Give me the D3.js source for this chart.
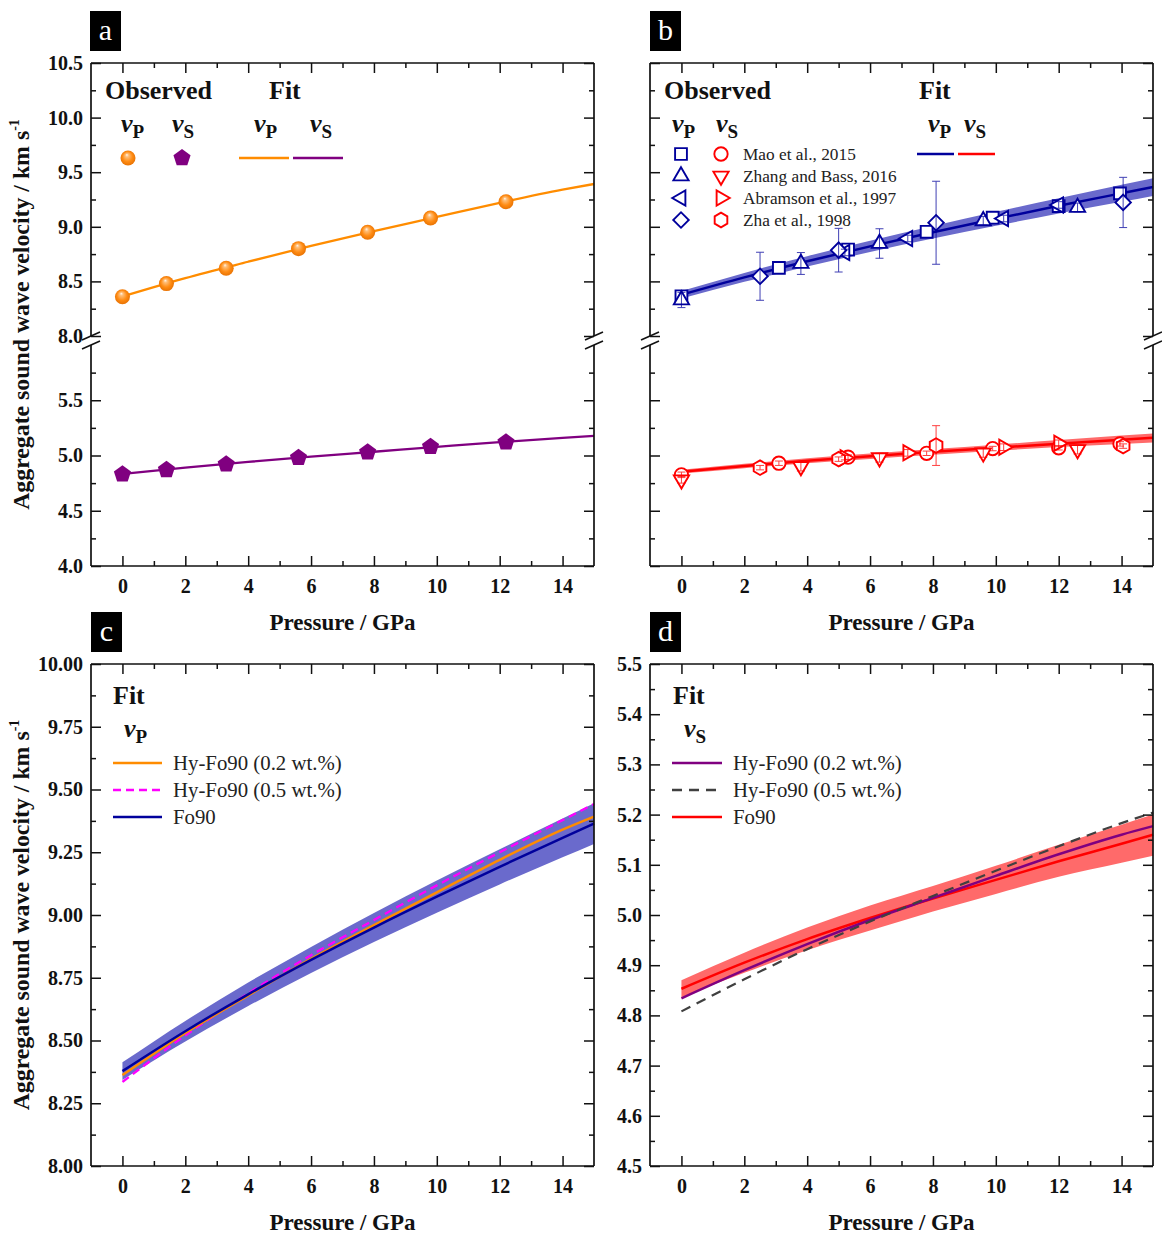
<!DOCTYPE html>
<html>
<head>
<meta charset="utf-8">
<script src="https://cdn.jsdelivr.net/npm/d3@7"></script>
<style>
  html, body { margin: 0; padding: 0; background: #fff; }
  svg { display: block; }
</style>
</head>
<body>
<svg id="chart" width="1162" height="1235"></svg>
<script>
// ---------------- axis ticks ----------------
const xMajor = [0, 2, 4, 6, 8, 10, 12, 14];
const xMinor = [1, 3, 5, 7, 9, 11, 13];
const yUpperMajor = [8.0, 8.5, 9.0, 9.5, 10.0, 10.5];
const yUpperMinor = [8.25, 8.75, 9.25, 9.75, 10.25];
const yLowerMajor = [4.0, 4.5, 5.0, 5.5];
const yLowerMinor = [4.25, 4.75, 5.25, 5.75];
const yVpMajor = [8.00, 8.25, 8.50, 8.75, 9.00, 9.25, 9.50, 9.75, 10.00];
const yVpMinor = [8.125, 8.375, 8.625, 8.875, 9.125, 9.375, 9.625, 9.875];
const yVsMajor = [4.5, 4.6, 4.7, 4.8, 4.9, 5.0, 5.1, 5.2, 5.3, 5.4, 5.5];
const yVsMinor = [4.55, 4.65, 4.75, 4.85, 4.95, 5.05, 5.15, 5.25, 5.35, 5.45];

// ---------------- observed Hy-Fo90 (0.2 wt.%) ----------------
const obsPressure = [0, 1.4, 3.3, 5.6, 7.8, 9.8, 12.2];
const obsVp = [8.36, 8.48, 8.62, 8.80, 8.95, 9.08, 9.23];
const obsVs = [4.83, 4.87, 4.92, 4.98, 5.03, 5.08, 5.12];

// ---------------- fitted velocity curves ----------------
const fitPressure = [0, 2, 4, 6, 8, 10, 12, 14, 15];
const hy02Vp   = [8.362, 8.530, 8.680, 8.825, 8.960, 9.090, 9.220, 9.340, 9.392];
const hy02Vs   = [4.834, 4.890, 4.942, 4.990, 5.034, 5.078, 5.121, 5.160, 5.177];
const hy05Vp   = [8.335, 8.520, 8.688, 8.840, 8.980, 9.118, 9.250, 9.378, 9.442];
const hy05Vs   = [4.808, 4.872, 4.932, 4.987, 5.038, 5.088, 5.137, 5.183, 5.204];
const fo90Vp   = [8.378, 8.537, 8.684, 8.821, 8.950, 9.073, 9.192, 9.307, 9.364];
const fo90VpHi = [8.413, 8.578, 8.731, 8.873, 9.008, 9.137, 9.262, 9.384, 9.445];
const fo90VpLo = [8.343, 8.496, 8.637, 8.769, 8.892, 9.009, 9.122, 9.230, 9.283];
const fo90Vs   = [4.853, 4.905, 4.952, 4.994, 5.033, 5.070, 5.107, 5.142, 5.160];
const fo90VsHi = [4.870, 4.925, 4.975, 5.019, 5.058, 5.098, 5.140, 5.180, 5.200];
const fo90VsLo = [4.836, 4.885, 4.930, 4.969, 5.007, 5.042, 5.076, 5.104, 5.118];

// ---------------- Fo90 literature data ----------------
const studyNames = ["Mao et al., 2015", "Zhang and Bass, 2016", "Abramson et al., 1997", "Zha et al., 1998"];

const maoP = [0, 3.1, 5.3, 7.8, 9.9, 12.0, 13.95];
const maoVp = [8.364, 8.624, 8.792, 8.954, 9.083, 9.190, 9.306];
const maoVpErr = [0, 0, 0, 0, 0, 0, 0];
const maoVs = [4.825, 4.930, 4.985, 5.020, 5.063, 5.070, 5.105];
const maoVsErr = [0.025, 0.02, 0.02, 0.02, 0.02, 0.02, 0.02];

const zhangP = [0, 3.8, 6.3, 9.6, 12.6];
const zhangVp = [8.330, 8.664, 8.847, 9.055, 9.177];
const zhangVpErr = [0.07, 0.10, 0.135, 0.04, 0.04];
const zhangVs = [4.780, 4.900, 4.980, 5.024, 5.054];
const zhangVsErr = [0.03, 0.04, 0.04, 0.04, 0.04];

const abramsonP = [5.2, 7.2, 10.25, 12.0];
const abramsonVp = [8.765, 8.893, 9.076, 9.200];
const abramsonVpErr = [0.03, 0.03, 0.03, 0.03];
const abramsonVs = [4.980, 5.024, 5.075, 5.110];
const abramsonVsErr = [0.02, 0.03, 0.03, 0.03];

const zhaP = [2.5, 5.0, 8.1, 14.05];
const zhaVp = [8.547, 8.786, 9.037, 9.223];
const zhaVpErr = [0.22, 0.20, 0.38, 0.23];
const zhaVs = [4.890, 4.967, 5.090, 5.085];
const zhaVsErr = [0.02, 0.02, 0.18, 0.02];

// ---------------- style ----------------
const FONT = '"Liberation Serif", "Times New Roman", Times, serif';
const INK = '#111';
const ORANGE = '#ff8c00', PURPLE = '#800080', MAGENTA = '#ff00ff';
const NAVY = '#00009c', RED = '#ff0000';
const NAVY_BAND = '#6a6acc', RED_BAND = '#ff6a6a';

const svg = d3.select('#chart');
svg.append('rect').attr('width', 1162).attr('height', 1235).attr('fill', '#fff');

const defs = svg.append('defs');
const grad = defs.append('radialGradient').attr('id', 'sphere')
  .attr('cx', '50%').attr('cy', '50%').attr('r', '55%').attr('fx', '42%').attr('fy', '28%');
grad.append('stop').attr('offset', '0%').attr('stop-color', '#fff8ee');
grad.append('stop').attr('offset', '20%').attr('stop-color', '#ffbe78');
grad.append('stop').attr('offset', '60%').attr('stop-color', '#ff8c14');
grad.append('stop').attr('offset', '100%').attr('stop-color', '#e46e00');

// ---------------- scales ----------------
const xA = d3.scaleLinear().domain([-1, 15]).range([91, 594]);
const xB = d3.scaleLinear().domain([-1, 15]).range([650, 1153]);
const yUpper = d3.scaleLinear().domain([8.0, 10.5]).range([336, 63]);
const yLower = d3.scaleLinear().domain([4.0, 6.0]).range([566, 345]);
const yVp = d3.scaleLinear().domain([8.0, 10.0]).range([1166, 664]);
const yVs = d3.scaleLinear().domain([4.5, 5.5]).range([1166, 664]);

const brokenSegs = [
  { y: yUpper, major: yUpperMajor, minor: yUpperMinor, fmt: '.1f' },
  { y: yLower, major: yLowerMajor, minor: yLowerMinor, fmt: '.1f' }
];

// ---------------- helpers ----------------
function styleAxis(sel) {
  sel.select('.domain').remove();
  sel.attr('font-family', FONT).attr('font-size', 20).attr('font-weight', 'bold');
  sel.selectAll('line').attr('stroke', INK).attr('stroke-width', 1.5);
  sel.selectAll('text').attr('fill', INK);
}

function drawAxes(x, segs, showYLabels) {
  const g = svg.append('g');
  const [L, R] = x.range();
  const T = d3.min(segs, s => s.y.range()[1]);
  const B = d3.max(segs, s => s.y.range()[0]);

  g.append('g').attr('transform', `translate(0,${B})`)
    .call(d3.axisBottom(x).tickValues(xMajor).tickSize(-10).tickPadding(13).tickFormat(d3.format('d'))).call(styleAxis);
  g.append('g').attr('transform', `translate(0,${B})`)
    .call(d3.axisBottom(x).tickValues(xMinor).tickSize(-5).tickFormat('')).call(styleAxis);
  g.append('g').attr('transform', `translate(0,${T})`)
    .call(d3.axisTop(x).tickValues(xMajor).tickSize(-10).tickFormat('')).call(styleAxis);
  g.append('g').attr('transform', `translate(0,${T})`)
    .call(d3.axisTop(x).tickValues(xMinor).tickSize(-5).tickFormat('')).call(styleAxis);

  segs.forEach(s => {
    g.append('g').attr('transform', `translate(${L},0)`)
      .call(d3.axisLeft(s.y).tickValues(s.major).tickSize(-10).tickPadding(8)
        .tickFormat(showYLabels ? d3.format(s.fmt) : '')).call(styleAxis);
    g.append('g').attr('transform', `translate(${L},0)`)
      .call(d3.axisLeft(s.y).tickValues(s.minor).tickSize(-5).tickFormat('')).call(styleAxis);
    g.append('g').attr('transform', `translate(${R},0)`)
      .call(d3.axisRight(s.y).tickValues(s.major).tickSize(-10).tickFormat('')).call(styleAxis);
    g.append('g').attr('transform', `translate(${R},0)`)
      .call(d3.axisRight(s.y).tickValues(s.minor).tickSize(-5).tickFormat('')).call(styleAxis);
    // frame sides for this segment
    [L, R].forEach(px => {
      g.append('line').attr('x1', px).attr('x2', px)
        .attr('y1', s.y.range()[0]).attr('y2', s.y.range()[1])
        .attr('stroke', INK).attr('stroke-width', 1.7);
    });
  });
  [T, B].forEach(py => {
    g.append('line').attr('x1', L).attr('x2', R).attr('y1', py).attr('y2', py)
      .attr('stroke', INK).attr('stroke-width', 1.7);
  });

  // break marks between segments
  for (let i = 0; i < segs.length - 1; i++) {
    const yTop = segs[i].y.range()[0];
    const yBot = segs[i + 1].y.range()[1];
    [L, R].forEach(px => {
      [yTop, yBot].forEach(py => {
        g.append('line').attr('x1', px - 9).attr('y1', py + 4).attr('x2', px + 9).attr('y2', py - 4)
          .attr('stroke', INK).attr('stroke-width', 1.5);
      });
    });
  }
  return g;
}

function panelLetter(x, y, letter) {
  svg.append('rect').attr('x', x).attr('y', y).attr('width', 31).attr('height', 40).attr('fill', '#000');
  svg.append('text').attr('x', x + 15.5).attr('y', y + 29).attr('text-anchor', 'middle')
    .attr('font-family', FONT).attr('font-size', 30).attr('fill', '#fff').text(letter);
}

function xTitle(x, yBase) {
  const [L, R] = x.range();
  svg.append('text').attr('x', (L + R) / 2).attr('y', yBase).attr('text-anchor', 'middle')
    .attr('font-family', FONT).attr('font-size', 23).attr('font-weight', 'bold').attr('fill', INK)
    .text('Pressure / GPa');
}

function yTitle(cx, cy) {
  const t = svg.append('text').attr('transform', `translate(${cx},${cy}) rotate(-90)`)
    .attr('text-anchor', 'middle').attr('font-family', FONT).attr('font-size', 23.8)
    .attr('font-weight', 'bold').attr('fill', INK);
  t.append('tspan').text('Aggregate sound wave velocity / km s');
  t.append('tspan').attr('font-size', 14).attr('dy', -10).text('-1');
}

function boldText(x, y, str, size) {
  svg.append('text').attr('x', x).attr('y', y).attr('font-family', FONT)
    .attr('font-size', size || 26).attr('font-weight', 'bold').attr('fill', INK).text(str);
}

function vLabel(x, y, sub) {
  const t = svg.append('text').attr('x', x).attr('y', y).attr('font-family', FONT)
    .attr('font-weight', 'bold').attr('fill', INK);
  t.append('tspan').attr('font-style', 'italic').attr('font-size', 26).text('v');
  t.append('tspan').attr('font-size', 19).attr('dy', 6).text(sub);
}

function curvePath(x, y, values) {
  return d3.line().x((d, i) => x(fitPressure[i])).y(d => y(d)).curve(d3.curveMonotoneX)(values);
}
function bandPath(x, y, lo, hi) {
  return d3.area().x((d, i) => x(fitPressure[i])).y0((d, i) => y(lo[i])).y1(d => y(d))
    .curve(d3.curveMonotoneX)(hi);
}

// marker shapes
const pentagonPath = r => 'M' + d3.range(5).map(k => {
  const a = -Math.PI / 2 + k * 2 * Math.PI / 5; return [r * Math.cos(a), r * Math.sin(a)];
}).join('L') + 'Z';
const hexagonPath = r => 'M' + d3.range(6).map(k => {
  const a = Math.PI / 6 + k * Math.PI / 3; return [r * Math.cos(a), r * Math.sin(a)];
}).join('L') + 'Z';
const shapes = {
  square:   { d: d3.symbol(d3.symbolSquare, 140)(), rot: 0 },
  triUp:    { d: d3.symbol(d3.symbolTriangle, 100)(), rot: 0 },
  triDown:  { d: d3.symbol(d3.symbolTriangle, 100)(), rot: 180 },
  triLeft:  { d: d3.symbol(d3.symbolTriangle, 100)(), rot: -90 },
  triRight: { d: d3.symbol(d3.symbolTriangle, 100)(), rot: 90 },
  diamond:  { d: d3.symbol(d3.symbolSquare, 120)(), rot: 45 },
  circle:   { d: d3.symbol(d3.symbolCircle, 140)(), rot: 0 },
  hexagon:  { d: hexagonPath(7.3), rot: 0 }
};

function marker(g, cx, cy, shape, color) {
  const s = shapes[shape];
  g.append('path').attr('d', s.d).attr('transform', `translate(${cx},${cy}) rotate(${s.rot})`)
    .attr('fill', '#fff').attr('stroke', color).attr('stroke-width', 1.9);
}
function errorBar(g, cx, y, v, e, color) {
  if (!e) return;
  const y1 = y(v - e), y2 = y(v + e);
  const eg = g.append('g').attr('stroke', color).attr('stroke-width', 1).attr('opacity', 0.75);
  eg.append('line').attr('x1', cx).attr('x2', cx).attr('y1', y1).attr('y2', y2);
  eg.append('line').attr('x1', cx - 4).attr('x2', cx + 4).attr('y1', y1).attr('y2', y1);
  eg.append('line').attr('x1', cx - 4).attr('x2', cx + 4).attr('y1', y2).attr('y2', y2);
}

// =============== panel a ===============
{
  const g = svg.append('g');
  g.append('path').attr('d', curvePath(xA, yUpper, hy02Vp)).attr('fill', 'none').attr('stroke', ORANGE).attr('stroke-width', 2.3);
  g.append('path').attr('d', curvePath(xA, yLower, hy02Vs)).attr('fill', 'none').attr('stroke', PURPLE).attr('stroke-width', 2.3);
  obsPressure.forEach((p, i) => {
    g.append('circle').attr('cx', xA(p)).attr('cy', yUpper(obsVp[i])).attr('r', 7.5).attr('fill', 'url(#sphere)');
    g.append('path').attr('d', pentagonPath(9)).attr('transform', `translate(${xA(p)},${yLower(obsVs[i])})`).attr('fill', PURPLE);
  });
  drawAxes(xA, brokenSegs, true);
  panelLetter(90, 11, 'a');
  xTitle(xA, 630);
  yTitle(29, 314.5);

  boldText(105, 99, 'Observed');
  boldText(269, 99, 'Fit');
  vLabel(121, 132, 'P');
  vLabel(172, 132, 'S');
  vLabel(254, 132, 'P');
  vLabel(310, 132, 'S');
  svg.append('circle').attr('cx', 128).attr('cy', 158).attr('r', 7.5).attr('fill', 'url(#sphere)');
  svg.append('path').attr('d', pentagonPath(9)).attr('transform', 'translate(182,158)').attr('fill', PURPLE);
  svg.append('line').attr('x1', 239).attr('x2', 289).attr('y1', 158).attr('y2', 158).attr('stroke', ORANGE).attr('stroke-width', 2.3);
  svg.append('line').attr('x1', 293).attr('x2', 343).attr('y1', 158).attr('y2', 158).attr('stroke', PURPLE).attr('stroke-width', 2.3);
}

// =============== panel b ===============
{
  const g = svg.append('g');
  g.append('path').attr('d', bandPath(xB, yUpper, fo90VpLo, fo90VpHi)).attr('fill', NAVY_BAND);
  g.append('path').attr('d', bandPath(xB, yLower, fo90VsLo, fo90VsHi)).attr('fill', RED_BAND);
  g.append('path').attr('d', curvePath(xB, yUpper, fo90Vp)).attr('fill', 'none').attr('stroke', NAVY).attr('stroke-width', 2.5);
  g.append('path').attr('d', curvePath(xB, yLower, fo90Vs)).attr('fill', 'none').attr('stroke', RED).attr('stroke-width', 2.5);

  const studies = [
    { p: maoP, vp: maoVp, vpErr: maoVpErr, vs: maoVs, vsErr: maoVsErr, mp: 'square', ms: 'circle' },
    { p: zhangP, vp: zhangVp, vpErr: zhangVpErr, vs: zhangVs, vsErr: zhangVsErr, mp: 'triUp', ms: 'triDown' },
    { p: abramsonP, vp: abramsonVp, vpErr: abramsonVpErr, vs: abramsonVs, vsErr: abramsonVsErr, mp: 'triLeft', ms: 'triRight' },
    { p: zhaP, vp: zhaVp, vpErr: zhaVpErr, vs: zhaVs, vsErr: zhaVsErr, mp: 'diamond', ms: 'hexagon' }
  ];
  studies.forEach(st => {
    st.p.forEach((p, i) => {
      marker(g, xB(p), yUpper(st.vp[i]), st.mp, NAVY);
      marker(g, xB(p), yLower(st.vs[i]), st.ms, RED);
    });
  });
  studies.forEach(st => {
    st.p.forEach((p, i) => {
      errorBar(g, xB(p), yUpper, st.vp[i], st.vpErr[i], NAVY);
      errorBar(g, xB(p), yLower, st.vs[i], st.vsErr[i], RED);
    });
  });

  drawAxes(xB, brokenSegs, false);
  panelLetter(650, 11, 'b');
  xTitle(xB, 630);

  boldText(664, 99, 'Observed');
  boldText(919, 99, 'Fit');
  vLabel(672, 132, 'P');
  vLabel(716, 132, 'S');
  vLabel(928, 132, 'P');
  vLabel(964, 132, 'S');
  svg.append('line').attr('x1', 917).attr('x2', 954).attr('y1', 154).attr('y2', 154).attr('stroke', NAVY).attr('stroke-width', 2.5);
  svg.append('line').attr('x1', 958).attr('x2', 995).attr('y1', 154).attr('y2', 154).attr('stroke', RED).attr('stroke-width', 2.5);

  const lg = svg.append('g');
  studies.forEach((st, i) => {
    const yy = 154 + i * 22;
    marker(lg, 681, yy, st.mp, NAVY);
    marker(lg, 721, yy, st.ms, RED);
    lg.append('text').attr('x', 743).attr('y', yy + 6).attr('font-family', FONT)
      .attr('font-size', 17.3).attr('fill', '#222').text(studyNames[i]);
  });
}

// =============== panel c ===============
{
  const g = svg.append('g');
  g.append('path').attr('d', bandPath(xA, yVp, fo90VpLo, fo90VpHi)).attr('fill', NAVY_BAND);
  g.append('path').attr('d', curvePath(xA, yVp, hy05Vp)).attr('fill', 'none').attr('stroke', MAGENTA)
    .attr('stroke-width', 2.3).attr('stroke-dasharray', '8,5');
  g.append('path').attr('d', curvePath(xA, yVp, hy02Vp)).attr('fill', 'none').attr('stroke', ORANGE).attr('stroke-width', 2.5);
  g.append('path').attr('d', curvePath(xA, yVp, fo90Vp)).attr('fill', 'none').attr('stroke', NAVY).attr('stroke-width', 2.5);

  drawAxes(xA, [{ y: yVp, major: yVpMajor, minor: yVpMinor, fmt: '.2f' }], true);
  panelLetter(91, 612, 'c');
  xTitle(xA, 1230);
  yTitle(29, 915);

  boldText(113, 704, 'Fit');
  vLabel(124, 737, 'P');
  const entries = [
    { color: ORANGE, dash: null, label: 'Hy-Fo90 (0.2 wt.%)' },
    { color: MAGENTA, dash: '8,5', label: 'Hy-Fo90 (0.5 wt.%)' },
    { color: NAVY, dash: null, label: 'Fo90' }
  ];
  entries.forEach((e, i) => {
    const yy = 763 + i * 27;
    svg.append('line').attr('x1', 113).attr('x2', 162).attr('y1', yy).attr('y2', yy)
      .attr('stroke', e.color).attr('stroke-width', 2.5).attr('stroke-dasharray', e.dash);
    svg.append('text').attr('x', 173).attr('y', yy + 7).attr('font-family', FONT)
      .attr('font-size', 20.8).attr('fill', '#222').text(e.label);
  });
}

// =============== panel d ===============
{
  const g = svg.append('g');
  g.append('path').attr('d', bandPath(xB, yVs, fo90VsLo, fo90VsHi)).attr('fill', RED_BAND);
  g.append('path').attr('d', curvePath(xB, yVs, fo90Vs)).attr('fill', 'none').attr('stroke', RED).attr('stroke-width', 2.5);
  g.append('path').attr('d', curvePath(xB, yVs, hy02Vs)).attr('fill', 'none').attr('stroke', PURPLE).attr('stroke-width', 2.5);
  g.append('path').attr('d', curvePath(xB, yVs, hy05Vs)).attr('fill', 'none').attr('stroke', '#404040')
    .attr('stroke-width', 2.2).attr('stroke-dasharray', '10,7');

  drawAxes(xB, [{ y: yVs, major: yVsMajor, minor: yVsMinor, fmt: '.1f' }], true);
  panelLetter(650, 612, 'd');
  xTitle(xB, 1230);

  boldText(673, 704, 'Fit');
  vLabel(684, 737, 'S');
  const entries = [
    { color: PURPLE, dash: null, label: 'Hy-Fo90 (0.2 wt.%)' },
    { color: '#404040', dash: '10,7', label: 'Hy-Fo90 (0.5 wt.%)' },
    { color: RED, dash: null, label: 'Fo90' }
  ];
  entries.forEach((e, i) => {
    const yy = 763 + i * 27;
    svg.append('line').attr('x1', 672).attr('x2', 722).attr('y1', yy).attr('y2', yy)
      .attr('stroke', e.color).attr('stroke-width', 2.5).attr('stroke-dasharray', e.dash);
    svg.append('text').attr('x', 733).attr('y', yy + 7).attr('font-family', FONT)
      .attr('font-size', 20.8).attr('fill', '#222').text(e.label);
  });
}
</script>
</body>
</html>
